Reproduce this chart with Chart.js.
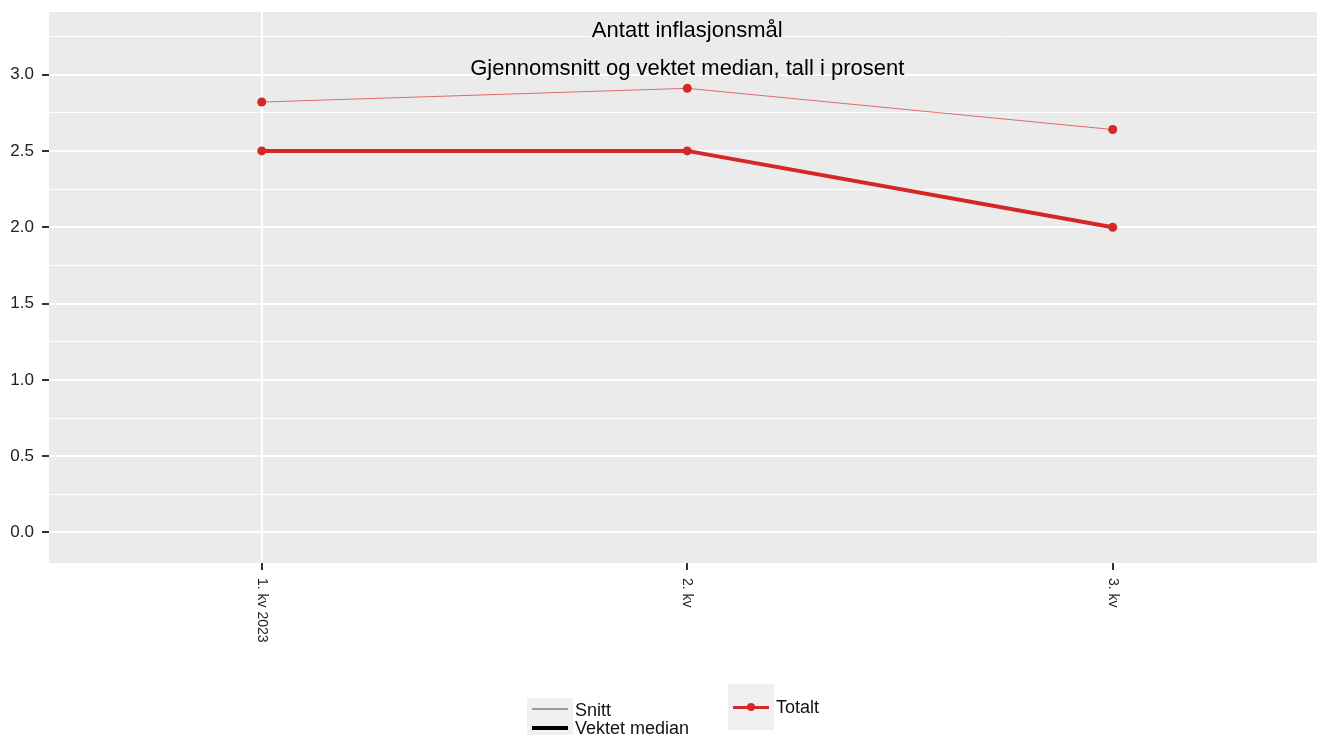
<!DOCTYPE html>
<html>
<head>
<meta charset="utf-8">
<script src="https://cdn.jsdelivr.net/npm/chart.js@4/dist/chart.umd.min.js"></script>
<style>
  html, body { margin: 0; padding: 0; background: #fff; overflow: hidden; }
  #wrap { position: absolute; left: 0; top: 0; width: 1330px; height: 735px; }
  .lg { position: absolute; font-family: "Liberation Sans", Arial, sans-serif; font-size: 18px; color: #111; }
  .box { position: absolute; background: #f0f0f0; }
  .key { position: absolute; }
</style>
</head>
<body>
<div id="wrap"><canvas id="chart" width="1330" height="735"></canvas></div>

<!-- legend: line type -->
<div class="box" style="left:527px; top:698px; width:46px; height:40px;"></div>
<div class="key" style="left:532px; top:708px; width:36px; height:1.5px; background:#9a9a9a;"></div>
<div class="key" style="left:532px; top:726px; width:36px; height:4px; background:#000;"></div>
<div class="lg" style="left:575px; top:700px;">Snitt</div>
<div class="lg" style="left:575px; top:718px;">Vektet median</div>

<!-- legend: group -->
<div class="box" style="left:728px; top:684px; width:46px; height:46px;"></div>
<div class="key" style="left:733px; top:706px; width:36px; height:3px; background:#d62728;"></div>
<div class="key" style="left:747px; top:703px; width:8px; height:8px; border-radius:50%; background:#d62728;"></div>
<div class="lg" style="left:776px; top:697px;">Totalt</div>

<script>
var kvartaler = ['1. kv 2023', '2. kv', '3. kv'];
var snitt = [2.82, 2.91, 2.64];
var vektetMedian = [2.5, 2.5, 2.0];
var tittel = ['Antatt inflasjonsmål', 'Gjennomsnitt og vektet median, tall i prosent'];

var rod = '#d62728';
var font = '"Liberation Sans", Arial, sans-serif';

function erHel(v) {
    return Math.abs(v * 2 - Math.round(v * 2)) < 1e-6;
}

// grå bakgrunn i panelet
var panel = {
    id: 'panel',
    beforeDraw: function(chart) {
        var a = chart.chartArea;
        var c = chart.ctx;
        c.save();
        c.fillStyle = '#ebebeb';
        c.fillRect(a.left, a.top, a.right - a.left, a.bottom - a.top);
        c.restore();
    }
};

// tittel inne i panelet og loddrette x-etiketter
var tekster = {
    id: 'tekster',
    afterDraw: function(chart) {
        var c = chart.ctx;
        var a = chart.chartArea;
        var midt = (a.left + a.right) / 2;
        c.save();
        c.fillStyle = '#000';
        c.textAlign = 'center';
        c.textBaseline = 'middle';
        c.font = '22px ' + font;
        c.fillText(tittel[0], midt, 31);
        c.fillText(tittel[1], midt, 69);

        var x = chart.scales.x;
        c.font = '14px ' + font;
        c.fillStyle = '#222';
        c.textAlign = 'left';
        kvartaler.forEach(function(lab, i) {
            c.save();
            c.translate(x.getPixelForTick(i), a.bottom + 15);
            c.rotate(Math.PI / 2);
            c.fillText(lab, 0, 0);
            c.restore();
        });
        c.restore();
    }
};

var ctx = document.getElementById('chart').getContext('2d');
var chart = new Chart(ctx, {
    type: 'line',
    data: {
        labels: kvartaler,
        datasets: [{
            label: 'Snitt',
            data: snitt,
            borderColor: 'rgba(214,39,40,0.65)',
            borderWidth: 1,
            pointBackgroundColor: rod,
            pointBorderWidth: 0,
            pointRadius: 4.5,
            tension: 0
        }, {
            label: 'Vektet median',
            data: vektetMedian,
            borderColor: rod,
            borderWidth: 4,
            pointBackgroundColor: rod,
            pointBorderWidth: 0,
            pointRadius: 4.5,
            tension: 0
        }]
    },
    options: {
        responsive: false,
        animation: false,
        layout: { padding: { top: 12, right: 4.5, bottom: 0, left: 0 } },
        plugins: {
            legend: { display: false },
            tooltip: { enabled: false }
        },
        scales: {
            x: {
                type: 'category',
                offset: true,
                border: { display: false },
                grid: {
                    offset: false,
                    color: function(c) { return c.index === 0 ? '#ffffff' : 'rgba(0,0,0,0)'; },
                    lineWidth: 2,
                    tickColor: '#333',
                    tickWidth: 2,
                    tickLength: 7
                },
                ticks: { display: false },
                afterFit: function(s) { s.height = 172; }
            },
            y: {
                min: -0.2,
                max: 3.41,
                border: { display: false },
                grid: {
                    color: '#ffffff',
                    lineWidth: function(c) { return c.tick && erHel(c.tick.value) ? 2 : 1; },
                    tickColor: function(c) { return c.tick && erHel(c.tick.value) ? '#333' : 'rgba(0,0,0,0)'; },
                    tickWidth: 2,
                    tickLength: 7
                },
                ticks: {
                    stepSize: 0.25,
                    includeBounds: false,
                    padding: 8,
                    color: '#222',
                    font: { family: font, size: 17 },
                    callback: function(v) { return erHel(v) ? v.toFixed(1) : ''; }
                },
                afterFit: function(s) {
                    s.width = 49;
                    s.paddingTop = 0;
                    s.paddingBottom = 0;
                }
            }
        }
    },
    plugins: [panel, tekster]
});
</script>
</body>
</html>
